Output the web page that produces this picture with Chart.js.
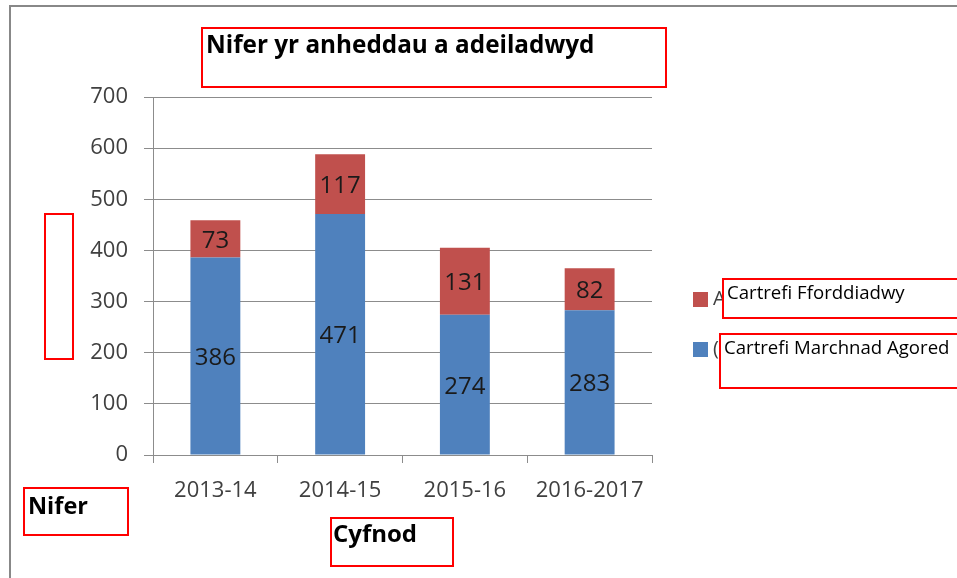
<!DOCTYPE html>
<html>
<head>
<meta charset="utf-8">
<script src="https://cdn.jsdelivr.net/npm/chart.js@4/dist/chart.umd.min.js"></script>
<style>
  html, body { margin:0; padding:0; background:#fff; }
  #wrap { position:relative; width:957px; height:578px; }
</style>
</head>
<body>
<div id="wrap"><canvas id="chart" width="957" height="578"></canvas></div>
<script>
const periods = ['2013-14', '2014-15', '2015-16', '2016-2017'];
const openMarket = [386, 471, 274, 283];
const affordable = [73, 117, 131, 82];
const seriesNames = ['Cartrefi Marchnad Agored', 'Cartrefi Fforddiadwy'];
const hiddenLegend = ['Anheddau fforddiadwy', '(Marchnad agored)'];
const titleText = 'Nifer yr anheddau a adeiladwyd';
const yLabel = 'Nifer';
const xLabel = 'Cyfnod';

const FONT = '"Open Sans", "Noto Sans", sans-serif';

// value labels in the middle of each bar segment
const valueLabels = {
  id: 'valueLabels',
  afterDatasetsDraw(chart) {
    const ctx = chart.ctx;
    ctx.save();
    ctx.font = '24px ' + FONT;
    ctx.fillStyle = '#1a1a1a';
    ctx.textAlign = 'center';
    ctx.textBaseline = 'middle';
    chart.data.datasets.forEach((ds, i) => {
      chart.getDatasetMeta(i).data.forEach((bar, j) => {
        ctx.fillText(ds.data[j], bar.x, (bar.y + bar.base) / 2 + 2);
      });
    });
    ctx.restore();
  }
};

// frame, legend and the text boxes laid over the picture
const overlay = {
  id: 'overlay',
  beforeDraw(chart) {
    const ctx = chart.ctx;
    ctx.save();
    ctx.fillStyle = '#888';
    ctx.fillRect(9, 5, 2, 600);
    ctx.fillRect(9, 5, 960, 2);
    ctx.restore();
  },
  afterDraw(chart) {
    const ctx = chart.ctx;
    ctx.save();
    // legend (reversed order, like the original)
    const items = [1, 0];
    items.forEach((di, k) => {
      const y = 292 + k * 50;
      ctx.fillStyle = chart.data.datasets[di].backgroundColor;
      ctx.fillRect(693, y, 15, 15);
      ctx.fillStyle = '#404040';
      ctx.font = '20px ' + FONT;
      ctx.textBaseline = 'middle';
      ctx.fillText(hiddenLegend[k], 713, y + 7);
    });

    function box(x1, y1, x2, y2, text, font, tx, ty) {
      ctx.fillStyle = '#fff';
      ctx.fillRect(x1, y1, x2 - x1, y2 - y1);
      ctx.strokeStyle = '#ff0000';
      ctx.lineWidth = 2;
      ctx.strokeRect(x1, y1, x2 - x1, y2 - y1);
      if (text) {
        ctx.fillStyle = '#000';
        ctx.font = font;
        ctx.textBaseline = 'alphabetic';
        ctx.textAlign = 'left';
        ctx.fillText(text, tx, ty);
      }
    }
    box(202, 28, 666, 87, titleText, 'bold 24.3px ' + FONT, 206, 53);
    box(45, 214, 73, 359, '', '', 0, 0);
    box(24, 488, 128, 535, yLabel, 'bold 23.5px ' + FONT, 28, 514);
    box(331, 518, 453, 566, xLabel, 'bold 24px ' + FONT, 333, 542);
    box(723, 279, 962, 318, seriesNames[1], '18.6px ' + FONT, 727, 299);
    box(720, 334, 962, 388, seriesNames[0], '18.6px ' + FONT, 724, 354);
    ctx.restore();
  }
};

new Chart(document.getElementById('chart'), {
  type: 'bar',
  data: {
    labels: periods,
    datasets: [
      { label: seriesNames[0], data: openMarket, backgroundColor: '#4F81BD', borderWidth: 0 },
      { label: seriesNames[1], data: affordable, backgroundColor: '#C0504D', borderWidth: 0 }
    ]
  },
  options: {
    responsive: false,
    animation: false,
    events: [],
    categoryPercentage: 0.4,
    barPercentage: 1.0,
    layout: { padding: { top: 97, right: 305, left: 0, bottom: 0 } },
    plugins: { legend: { display: false }, tooltip: { enabled: false }, title: { display: false } },
    scales: {
      x: {
        stacked: true,
        afterFit(s) { s.height = 123; },
        grid: { offset: true, drawOnChartArea: false, drawTicks: true, tickLength: 8, color: '#8c8c8c' },
        border: { color: '#8c8c8c', width: 1 },
        ticks: { color: '#404040', font: { family: FONT, size: 22 }, padding: 15, maxRotation: 0 }
      },
      y: {
        stacked: true,
        min: 0, max: 700,
        afterFit(s) { s.width = 153; },
        grid: { color: '#8c8c8c', tickLength: 9 },
        border: { color: '#8c8c8c', width: 1 },
        ticks: { stepSize: 100, color: '#404040', font: { family: FONT, size: 22 }, padding: 16 }
      }
    }
  },
  plugins: [valueLabels, overlay]
});
</script>
</body>
</html>
